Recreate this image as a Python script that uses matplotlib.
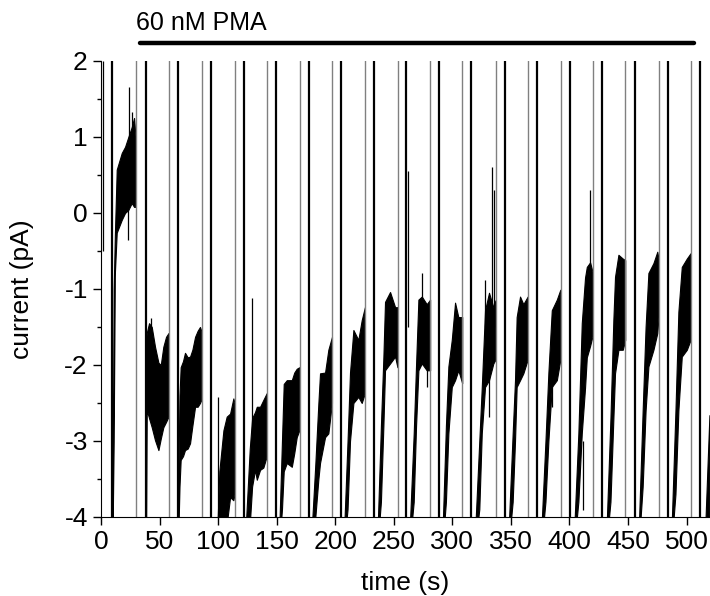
import matplotlib
matplotlib.use("Agg")
import matplotlib.pyplot as plt
from matplotlib.ticker import MultipleLocator

plt.rcParams['font.family'] = ['Liberation Sans', 'DejaVu Sans']
plt.rcParams['axes.unicode_minus'] = False

# voltage-jump artifacts: black = start of a pulse, grey = end of it
seg_start = [9.6, 38.1, 65.8, 93.7, 121.8, 149.7, 177.4, 205.0, 233.4, 260.4,
             288.2, 316.3, 344.7, 372.0, 400.1, 427.9, 455.7, 483.8, 511.7]
seg_end = [29.8, 57.9, 85.8, 114.1, 141.7, 169.5, 197.4, 225.5, 253.2, 281.1,
           308.6, 337.0, 364.6, 392.4, 420.2, 447.8, 476.2, 503.7]

# noisy current band during each pulse: time, lower and upper edge (pA)
env_t = [
    [9.8, 10.8, 11.8, 13.4, 17.7, 20.5, 23.3, 26.2, 28.2, 29.7],
    [38.4, 39.0, 41.0, 43.3, 46.1, 49.0, 51.0, 53.2, 55.5, 57.6],
    [65.9, 67.0, 68.0, 70.0, 71.7, 74.0, 76.0, 78.0, 80.3, 82.5, 84.5, 85.6],
    [99.0, 101.0, 104.5, 107.3, 110.2, 113.0, 114.0],
    [124.0, 127.0, 129.0, 131.5, 133.0, 135.8, 138.6, 141.5],
    [152.5, 154.5, 156.0, 158.6, 162.9, 165.0, 167.1, 169.3],
    [180.5, 183.0, 185.6, 187.0, 191.3, 194.1, 197.2],
    [208.0, 210.5, 212.6, 215.5, 219.7, 222.6, 225.3],
    [236.5, 239.0, 241.1, 242.5, 246.8, 251.1, 253.1],
    [264.0, 267.0, 269.0, 271.0, 273.9, 278.1, 281.0],
    [292.0, 294.5, 296.6, 299.5, 302.3, 305.1, 308.4],
    [320.0, 323.0, 325.1, 327.9, 331.3, 335.0, 336.8],
    [348.5, 351.5, 353.5, 354.9, 357.8, 360.6, 364.3],
    [376.5, 379.5, 382.0, 384.9, 389.2, 392.2],
    [404.5, 407.6, 410.5, 413.3, 414.8, 417.6, 420.0],
    [432.0, 435.0, 437.5, 438.9, 441.8, 445.5, 447.6],
    [459.5, 462.5, 465.0, 467.4, 471.7, 475.0, 476.0],
    [487.5, 490.5, 493.0, 495.9, 500.2, 503.4],
    [515.5, 519.5],
]
env_lo = [
    [-4.3, -3.0, -0.8, -0.26, -0.09, 0.0, 0.04, 0.13, 0.08, 0.08],
    [-4.2, -2.59, -2.7, -2.82, -2.99, -3.12, -2.97, -2.82, -2.75, -2.68],
    [-4.3, -3.6, -3.25, -3.2, -3.12, -3.1, -3.03, -2.8, -2.55, -2.55, -2.5, -2.46],
    [-4.3, -4.3, -4.3, -4.1, -3.74, -3.78, -3.7],
    [-4.3, -4.1, -3.6, -3.38, -3.51, -3.38, -3.35, -3.2],
    [-4.3, -3.9, -3.4, -3.29, -3.34, -3.16, -2.95, -2.86],
    [-4.3, -4.0, -3.5, -3.29, -2.95, -2.9, -2.5],
    [-4.3, -3.9, -3.0, -2.5, -2.42, -2.5, -2.37],
    [-4.3, -3.8, -2.8, -2.07, -1.98, -1.89, -2.03],
    [-4.3, -3.8, -2.8, -2.07, -1.98, -2.07, -2.07],
    [-4.3, -3.8, -2.9, -2.29, -2.2, -2.07, -2.24],
    [-4.3, -3.9, -2.9, -2.29, -2.2, -1.98, -1.93],
    [-4.3, -3.8, -3.0, -2.29, -2.2, -2.11, -1.93],
    [-4.3, -3.8, -3.0, -2.29, -2.2, -1.93],
    [-4.3, -3.8, -2.9, -2.3, -1.9, -1.75, -1.6],
    [-4.3, -3.8, -2.7, -2.11, -1.8, -1.8, -1.67],
    [-4.3, -3.6, -2.6, -2.02, -1.8, -1.58, -1.37],
    [-4.3, -3.7, -2.6, -1.89, -1.8, -1.67],
    [-4.3, -4.3],
]
env_hi = [
    [-4.0, -1.0, -0.3, 0.57, 0.79, 0.87, 1.0, 1.13, 1.25, 0.96],
    [-1.7, -1.58, -1.45, -1.5, -1.76, -1.97, -2.0, -1.76, -1.63, -1.58],
    [-3.6, -2.4, -2.03, -1.95, -1.84, -1.9, -1.89, -1.8, -1.63, -1.55, -1.5, -1.55],
    [-4.3, -3.4, -2.86, -2.68, -2.64, -2.44, -2.5],
    [-4.0, -3.1, -2.7, -2.62, -2.55, -2.55, -2.46, -2.37],
    [-4.0, -3.0, -2.25, -2.2, -2.2, -2.1, -2.05, -2.03],
    [-4.0, -3.3, -2.5, -2.11, -2.1, -1.8, -1.63],
    [-4.0, -3.0, -2.1, -1.54, -1.67, -1.41, -1.24],
    [-4.0, -2.8, -1.9, -1.17, -1.04, -1.24, -1.24],
    [-4.0, -2.9, -2.0, -1.14, -1.1, -1.2, -1.14],
    [-4.0, -2.8, -2.02, -1.67, -1.18, -1.37, -1.37],
    [-4.0, -3.0, -2.3, -1.28, -1.05, -1.24, -1.15],
    [-4.0, -2.9, -2.2, -1.37, -1.1, -1.2, -1.1],
    [-4.0, -3.0, -2.1, -1.28, -1.14, -1.01],
    [-4.0, -2.9, -1.45, -0.85, -0.71, -0.65, -0.79],
    [-4.0, -2.7, -1.4, -0.84, -0.55, -0.6, -0.62],
    [-4.0, -2.6, -1.5, -0.79, -0.66, -0.51, -0.6],
    [-4.0, -2.6, -1.3, -0.71, -0.6, -0.53],
    [-4.3, -2.66],
]

# single noise excursions sticking out of the band
spike_t = [1.5, 23.0, 23.6, 26.5, 43.0, 100.2, 128.5, 261.8, 273.9, 278.0,
           327.5, 331.0, 333.6, 335.6, 384.9, 411.5, 417.6]
spike_lo = [-0.5, -0.36, 0.5, 0.9, -2.0, -4.0, -3.0, -1.5, -1.5, -2.29,
            -1.5, -2.68, -1.5, -1.5, -2.55, -3.91, -1.0]
spike_hi = [2.0, 0.2, 1.66, 1.33, -1.38, -2.42, -1.12, 0.55, -0.79, -1.8,
            -0.88, -2.0, 0.6, 0.3, -2.0, -3.0, 0.3]

drug_label = "60 nM PMA"
drug_on, drug_off = 33.0, 506.0

fig = plt.figure(figsize=(7.1, 5.96), dpi=100)
ax = fig.add_axes([0.1423, 0.1326, 0.8577, 0.7651])

for tt, lo, hi in zip(env_t, env_lo, env_hi):
    ax.fill_between(tt, lo, hi, color='k', lw=0.8, edgecolor='k')

ax.vlines(seg_start, -4.5, 2.5, color='k', lw=1.6)
ax.vlines(seg_end, -4.5, 2.5, color='0.5', lw=1.0)
ax.vlines(spike_t, spike_lo, spike_hi, color='k', lw=0.9)

ax.set_xlim(0, 520)
ax.set_ylim(-4, 2)
ax.xaxis.set_major_locator(MultipleLocator(50))
ax.yaxis.set_major_locator(MultipleLocator(1))
ax.yaxis.set_minor_locator(MultipleLocator(0.5))
ax.tick_params(which='major', direction='out', length=6, width=1, labelsize=19)
ax.tick_params(which='minor', direction='out', length=3, width=1)
ax.spines['top'].set_visible(False)
ax.spines['right'].set_visible(False)
ax.set_xlabel('time (s)', fontsize=19, labelpad=12)
ax.set_ylabel('current (pA)', fontsize=19, labelpad=22)

# drug application bar above the plot
ax.plot([drug_on, drug_off], [2.24, 2.24], color='k', lw=3.2,
        solid_capstyle='round', clip_on=False)
ax.text(drug_on - 3, 2.34, drug_label, fontsize=18, ha='left', va='bottom')

fig.savefig('out.png', dpi=100)
